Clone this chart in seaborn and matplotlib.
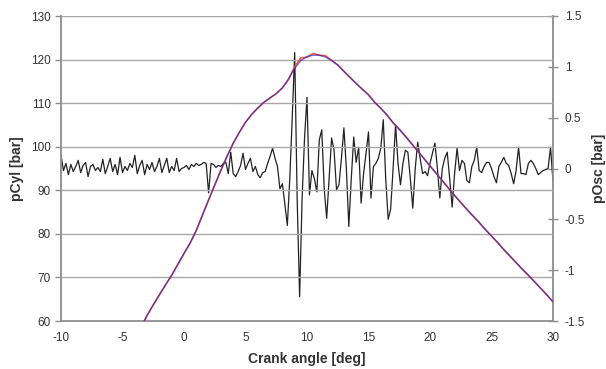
import numpy as np
import pandas as pd
import matplotlib as mpl
mpl.use("Agg")
import matplotlib.pyplot as plt
import seaborn as sns

sns.set_style("white")
plt.rcParams["font.family"] = ["Liberation Sans", "DejaVu Sans"]
plt.rcParams["axes.unicode_minus"] = False

# pOsc [bar], oscillating pressure, sampled every 0.2 deg from -10 to 30
osc_angle = np.round(np.arange(-10, 30.01, 0.2), 1)
p_osc = [
    0.13, -0.02, 0.05, -0.06, 0.04, -0.03, 0.02, 0.08, -0.04, 0.03,
    0.06, -0.08, 0.02, 0.04, -0.02, 0.01, -0.03, 0.09, -0.05, 0.02,
    0.10, -0.03, 0.04, -0.06, 0.11, -0.04, 0.02, -0.02, 0.05, 0.01,
    0.13, -0.05, 0.03, 0.08, -0.06, 0.04, -0.01, 0.06, -0.03, 0.02,
    0.10, -0.04, 0.03, 0.10, -0.04, 0.02, -0.02, 0.10, -0.03, 0.00,
    0.01, 0.03, -0.01, 0.04, 0.02, 0.05, 0.03, 0.04, 0.06, 0.05,
    -0.24, 0.05, 0.04, 0.01, 0.03, 0.02, 0.05, 0.06, -0.05, 0.16,
    -0.05, -0.08, -0.03, 0.03, 0.15, -0.01, 0.05, 0.10, -0.03, 0.02,
    -0.06, -0.09, -0.04, -0.03, 0.05, 0.12, 0.20, 0.10, 0.02, -0.20,
    -0.15, -0.35, -0.56, -0.10, 0.50, 1.14, -0.30, -1.26, -0.30, 0.30,
    0.70, -0.26, -0.02, -0.10, -0.23, 0.28, 0.38, -0.20, -0.49, -0.10,
    0.30, 0.18, -0.21, -0.16, 0.10, 0.40, 0.00, -0.57, -0.10, 0.31,
    0.06, 0.21, -0.34, -0.05, 0.15, 0.36, -0.29, 0.02, 0.05, 0.10,
    0.20, 0.48, -0.10, -0.50, -0.40, 0.00, 0.43, 0.05, -0.16, 0.05,
    0.18, 0.16, -0.10, -0.39, 0.00, 0.26, 0.10, -0.05, -0.03, -0.07,
    0.05, 0.15, 0.25, 0.00, -0.29, 0.00, 0.10, 0.16, -0.10, -0.38,
    -0.05, 0.20, -0.02, 0.08, 0.05, -0.12, -0.14, 0.02, 0.08, 0.21,
    -0.02, -0.04, 0.02, 0.06, 0.06, 0.00, -0.08, -0.14, 0.02, 0.06,
    0.11, 0.05, 0.03, -0.05, -0.15, -0.02, 0.21, -0.05, -0.05, -0.06,
    0.05, 0.08, 0.05, 0.00, -0.06, -0.04, -0.02, -0.01, 0.00, 0.21,
    -0.13,
]

# pCyl [bar], cylinder pressure every 0.5 deg from -3.5 to 30
cyl_angle = np.arange(-3.5, 30.01, 0.5)
p_cyl_filt = [
    58.6, 61.3, 63.7, 66.0, 68.3, 70.5, 73.0, 75.5, 77.9, 80.8,
    84.3, 87.8, 91.2, 94.6, 97.8, 100.8, 103.3, 105.6, 107.4, 108.9,
    110.2, 111.2, 112.2, 113.5, 115.6, 118.0, 119.8, 120.7, 121.0, 121.0,
    120.6, 119.8, 118.7, 117.3, 115.9, 114.5, 113.2, 111.9, 110.2, 108.8,
    107.3, 105.5, 104.0, 102.4, 100.7, 99.0, 97.3, 95.6, 93.9, 92.2,
    90.5, 88.8, 87.2, 85.6, 84.1, 82.6, 81.0, 79.5, 78.0, 76.4,
    74.9, 73.4, 71.9, 70.5, 69.0, 67.5, 66.0, 64.4,
]
p_cyl_raw = [
    58.6, 61.3, 63.7, 66.0, 68.3, 70.5, 73.0, 75.5, 77.9, 80.8,
    84.3, 87.8, 91.2, 94.6, 97.8, 100.8, 103.3, 105.6, 107.4, 108.9,
    110.2, 111.2, 112.2, 113.5, 115.4, 118.4, 120.4, 120.5, 121.4, 121.0,
    120.9, 119.8, 118.8, 117.3, 115.9, 114.5, 113.2, 111.9, 110.2, 108.8,
    107.3, 105.5, 104.0, 102.4, 100.7, 99.0, 97.3, 95.6, 93.9, 92.2,
    90.5, 88.8, 87.2, 85.6, 84.1, 82.6, 81.0, 79.5, 78.0, 76.4,
    74.9, 73.4, 71.9, 70.5, 69.0, 67.5, 66.0, 64.4,
]

cyl = pd.DataFrame({"angle": cyl_angle, "raw": p_cyl_raw, "filt": p_cyl_filt})
osc = pd.DataFrame({"angle": osc_angle, "posc": p_osc})

fig = plt.figure(figsize=(6.06, 3.69), dpi=100)
ax = fig.add_axes([61 / 606, 1 - 321 / 369, 492 / 606, 305 / 369])
ax2 = ax.twinx()

sns.lineplot(data=osc, x="angle", y="posc", ax=ax2, color="#222222", lw=0.9,
             estimator=None, sort=False)
sns.lineplot(data=cyl, x="angle", y="raw", ax=ax, color="#ff5030", lw=1.1,
             estimator=None, sort=False)
sns.lineplot(data=cyl, x="angle", y="filt", ax=ax, color="#1a1acc", lw=1.1,
             alpha=0.6, estimator=None, sort=False)

# pCyl lines drawn over the pOsc trace
ax.set_zorder(ax2.get_zorder() + 1)
ax.patch.set_visible(False)

ax.set_xlim(-10, 30)
ax.set_ylim(60, 130)
ax.set_xticks(range(-10, 31, 5))
ax.set_yticks(range(60, 131, 10))
ax2.set_ylim(-1.5, 1.5)
ax2.set_yticks([-1.5, -1, -0.5, 0, 0.5, 1, 1.5])
ax2.set_yticklabels(["-1.5", "-1", "-0.5", "0", "0.5", "1", "1.5"])

ax.yaxis.grid(True, color="#a8a8a8", lw=1.0)
ax2.grid(False)

for a in (ax, ax2):
    for s in a.spines.values():
        s.set_visible(False)
for s in ("left", "bottom", "right"):
    ax2.spines[s].set_visible(True)
    ax2.spines[s].set_color("#8c8c8c")
    ax2.spines[s].set_linewidth(1.3)

ax.tick_params(axis="both", labelsize=8.5, colors="#8c8c8c", labelcolor="#333333",
               length=4, width=1, direction="out")
ax.tick_params(axis="x", pad=4)
ax2.tick_params(axis="y", labelsize=8.5, colors="#8c8c8c", labelcolor="#333333",
                length=7, width=1, direction="inout", pad=5)

ax.set_xlabel("Crank angle [deg]", fontsize=10, fontweight="bold", color="#333333", labelpad=6)
ax.set_ylabel("pCyl [bar]", fontsize=10, fontweight="bold", color="#333333", labelpad=5)
ax2.set_ylabel("pOsc [bar]", fontsize=10, fontweight="bold", color="#333333",
               rotation=90, labelpad=5)

fig.savefig("out.png", dpi=100)
